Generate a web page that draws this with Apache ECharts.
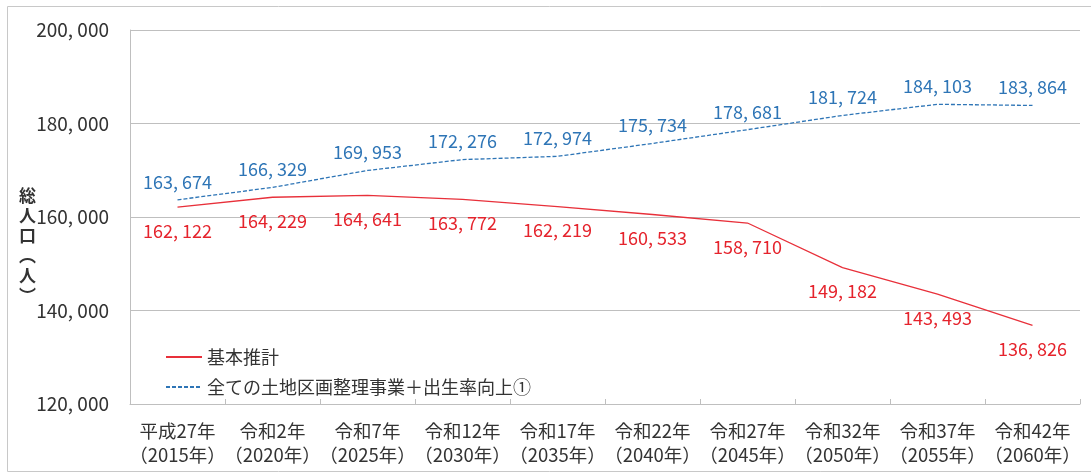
<!DOCTYPE html>
<html>
<head>
    <meta charset="utf-8" />
    <script src="https://cdn.jsdelivr.net/npm/echarts@6/dist/echarts.min.js"></script>
    <style>
        html, body { margin: 0; padding: 0; background: #fff; }
        #chart { width: 1091px; height: 473px; }
    </style>
</head>
<body>
    <div id="chart"></div>
    <script type="text/javascript">
        var categories = [
            '平成27年\n（2015年）', '令和2年\n（2020年）', '令和7年\n（2025年）', '令和12年\n（2030年）',
            '令和17年\n（2035年）', '令和22年\n（2040年）', '令和27年\n（2045年）', '令和32年\n（2050年）',
            '令和37年\n（2055年）', '令和42年\n（2060年）'
        ];
        var basic = [162122, 164229, 164641, 163772, 162219, 160533, 158710, 149182, 143493, 136826];
        var improved = [163674, 166329, 169953, 172276, 172974, 175734, 178681, 181724, 184103, 183864];
        var seriesNames = ['基本推計', '全ての土地区画整理事業＋出生率向上①'];

        var font = '"Noto Sans CJK JP", "Noto Sans", sans-serif';

        function fmt(v) {
            var s = String(v);
            return s.slice(0, s.length - 3) + ', ' + s.slice(-3);
        }

        var chart = echarts.init(document.getElementById('chart'));
        var option = {
            animation: false,
            textStyle: { fontFamily: font },
            grid: { left: 130, right: 11, top: 30, bottom: 69 },
            graphic: [
                {
                    type: 'rect',
                    shape: { x: 7.5, y: 6.5, width: 1100, height: 465 },
                    style: { fill: 'none', stroke: '#c8c8c8', lineWidth: 1 },
                    z: -1
                },
                {
                    type: 'text',
                    left: 19,
                    top: 186,
                    style: {
                        text: '総\n人\n口\n︵\n人\n︶',
                        font: 'bold 17px ' + font,
                        fill: '#333',
                        lineHeight: 20
                    }
                }
            ],
            legend: {
                orient: 'vertical',
                left: 160,
                top: 343,
                itemWidth: 36,
                itemHeight: 12,
                itemGap: 12,
                textStyle: { fontSize: 18, color: '#333', fontFamily: font },
                data: seriesNames
            },
            xAxis: {
                type: 'category',
                data: categories,
                boundaryGap: true,
                axisLine: { lineStyle: { color: '#bfbfbf', width: 1 } },
                axisTick: { show: true, inside: true, length: 5, lineStyle: { color: '#bfbfbf' } },
                axisLabel: {
                    color: '#333',
                    fontSize: 18.5,
                    lineHeight: 24,
                    margin: 15,
                    interval: 0
                }
            },
            yAxis: {
                type: 'value',
                min: 120000,
                max: 200000,
                interval: 20000,
                axisLine: { show: true, lineStyle: { color: '#bfbfbf', width: 1 } },
                axisTick: { show: false },
                splitLine: { lineStyle: { color: '#bfbfbf', width: 1 } },
                axisLabel: {
                    color: '#333',
                    fontSize: 19,
                    margin: 21,
                    formatter: fmt
                }
            },
            series: [
                {
                    name: seriesNames[0],
                    type: 'line',
                    data: basic,
                    symbol: 'circle',
                    symbolSize: 2,
                    itemStyle: { color: 'rgba(0,0,0,0)', borderWidth: 0 },
                    lineStyle: { color: '#e8303a', width: 1.3 },
                    label: {
                        show: true,
                        position: 'bottom',
                        distance: 14,
                        color: '#e5232c',
                        fontSize: 18,
                        formatter: function (p) { return fmt(p.value); }
                    }
                },
                {
                    name: seriesNames[1],
                    type: 'line',
                    data: improved,
                    symbol: 'circle',
                    symbolSize: 2,
                    itemStyle: { color: 'rgba(0,0,0,0)', borderWidth: 0 },
                    lineStyle: { color: '#2e75b6', width: 1.3, type: [4, 2] },
                    label: {
                        show: true,
                        position: 'top',
                        distance: 8,
                        color: '#2e75b6',
                        fontSize: 18,
                        formatter: function (p) { return fmt(p.value); }
                    }
                }
            ]
        };
        chart.setOption(option);
    </script>
</body>
</html>
